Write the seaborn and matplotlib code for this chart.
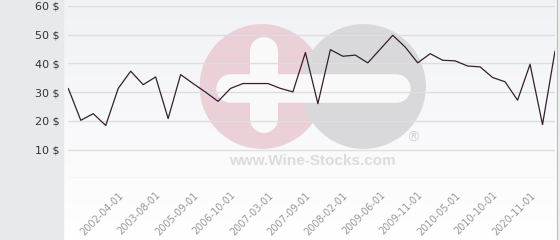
import numpy as np
import pandas as pd
import matplotlib
matplotlib.use("Agg")
import matplotlib.pyplot as plt
import seaborn as sns
from matplotlib.patches import Circle, Rectangle
from matplotlib.lines import Line2D

# ---- data ----
prices = [31.3, 20.2, 22.5, 18.4, 31.3, 37.3, 32.6, 35.3, 20.8, 36.1,
          33.0, 30.0, 26.8, 31.3, 33.0, 33.0, 33.0, 31.3, 30.1, 43.8,
          26.0, 44.8, 42.5, 42.9, 40.2, 45.0, 49.8, 45.7, 40.2, 43.4,
          41.1, 40.9, 39.1, 38.8, 35.1, 33.6, 27.2, 39.7, 18.7, 44.3]
tick_labels = ["2002-04-01", "2003-08-01", "2005-09-01", "2006-10-01",
               "2007-03-01", "2007-09-01", "2008-02-01", "2009-06-01",
               "2009-11-01", "2010-05-01", "2010-10-01", "2020-11-01"]
tick_start = 4
tick_step = 3
y_ticks = [0, 10, 20, 30, 40, 50, 60]
y_tick_labels = ["", "10 $", "20 $", "30 $", "40 $", "50 $", "60 $"]

df = pd.DataFrame({"idx": np.arange(len(prices)), "price": prices})

sns.set_style("white")
plt.rcParams["font.family"] = ["DejaVu Sans"]

W, H = 560, 240
fig = plt.figure(figsize=(W / 100, H / 100), dpi=100)

# ---- background layer (pixel coordinates) ----
bg = fig.add_axes([0, 0, 1, 1], zorder=0)
bg.set_xlim(0, W)
bg.set_ylim(H, 0)
bg.axis("off")
top_c = np.array([0xf1, 0xf2, 0xf6]) / 255
bot_c = np.array([1.0, 1.0, 1.0])
t = np.linspace(0, 1, 240)[:, None, None]
grad = top_c[None, None, :] * (1 - t) + bot_c[None, None, :] * t
bg.imshow(grad, extent=(63, 557, H, 0), aspect="auto", interpolation="bilinear", zorder=0)
bg.add_patch(Rectangle((0, 0), 63, H, color="#e7eaed", zorder=1))
bg.add_patch(Rectangle((557.5, 0), 3, H, color="#eeeeee", zorder=1))
bg.add_line(Line2D([557, 557], [0, H], color="#bdbdbd", linewidth=0.8, zorder=2))

# watermark
bg.add_patch(Circle((262, 86.5), 61.7, color="#ebd0d8", zorder=3))
bg.add_patch(Circle((363.5, 86.5), 61.7, color="#d9d9db", zorder=4))
bg.add_line(Line2D([229.5, 396], [87.5, 87.5], color="#f9f9fa", linewidth=28.5 * 0.72,
                   solid_capstyle="round", zorder=5))
bg.add_line(Line2D([264, 264], [51, 119], color="#f9f9fa", linewidth=28 * 0.72,
                   solid_capstyle="round", zorder=5))
bg.text(312.5, 161, "www.Wine-Stocks.com", family="Liberation Sans", fontweight="bold",
        fontsize=11, color="#dcdcdc", ha="center", va="center", zorder=6)
bg.text(413, 138, "\u00ae", fontsize=10, color="#d4d4d4", ha="center", va="center", zorder=6)
bg.set_xlim(0, W)
bg.set_ylim(H, 0)

# ---- main chart ----
x0, x1 = 68.3, 555.0
y0, y1 = H - 178.3, H - 6.0
ax = fig.add_axes([x0 / W, y0 / H, (x1 - x0) / W, (y1 - y0) / H], zorder=2)
ax.set_facecolor("none")
sns.lineplot(data=df, x="idx", y="price", ax=ax, color="#33202c", linewidth=0.9)
ax.set_xlim(0, len(prices) - 1)
ax.set_ylim(0, 60)
ax.set_xlabel("")
ax.set_ylabel("")
for s in ax.spines.values():
    s.set_visible(False)
ax.set_yticks(y_ticks)
ax.set_yticklabels(y_tick_labels, fontsize=8, color="#333333")
ax.set_xticks(list(range(tick_start, len(prices), tick_step))[:len(tick_labels)])
ax.set_xticklabels(tick_labels, fontsize=7, color="#999999", rotation=45,
                   ha="right", va="top", rotation_mode="anchor")
ax.tick_params(axis="y", length=0, pad=6)
ax.tick_params(axis="x", length=0, pad=8.5)
ax.grid(axis="y", color="#dedede", linewidth=1)
ax.grid(axis="x", visible=False)
ax.set_axisbelow(True)

fig.savefig("out.png", dpi=100)
